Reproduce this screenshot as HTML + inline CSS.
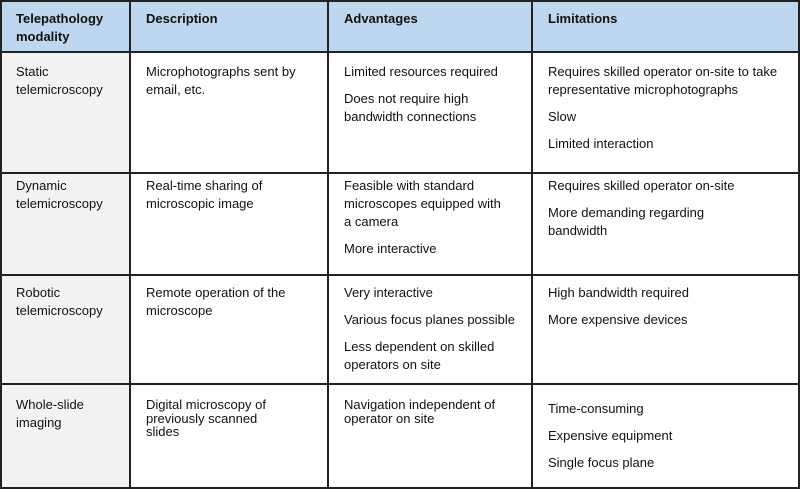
<!DOCTYPE html>
<html><head><meta charset="utf-8"><style>
body{margin:0;width:800px;height:489px;background:#fff;overflow:hidden;font-family:"Liberation Sans",Arial,sans-serif;font-size:13px;color:#111}
.c{position:absolute;box-sizing:border-box;padding:9px 10px 0 16px;line-height:18px}
.c p{margin:0 0 9px 0}
.h{background:#bdd7ee;font-weight:bold}
.g{background:#f2f2f2}
.v{position:absolute;top:0;width:2px;height:489px;background:#222}
.hl{position:absolute;left:0;width:800px;height:2px;background:#222}
</style></head><body>
<div class="c h" style="left:0;top:1px;width:130px;height:51px">Telepathology<br>modality</div>
<div class="c h" style="left:130px;top:1px;width:198px;height:51px">Description</div>
<div class="c h" style="left:328px;top:1px;width:204px;height:51px">Advantages</div>
<div class="c h" style="left:532px;top:1px;width:268px;height:51px">Limitations</div>

<div class="c g" style="left:0;top:52px;width:130px;height:437px"></div>

<div class="c" style="left:0;top:54px;width:130px">Static<br>telemicroscopy</div>
<div class="c" style="left:130px;top:54px;width:198px">Microphotographs sent by<br>email, etc.</div>
<div class="c" style="left:328px;top:54px;width:204px"><p>Limited resources required</p><p>Does not require high<br>bandwidth connections</p></div>
<div class="c" style="left:532px;top:54px;width:268px"><p>Requires skilled operator on-site to take<br>representative microphotographs</p><p>Slow</p><p>Limited interaction</p></div>

<div class="c" style="left:0;top:168px;width:130px">Dynamic<br>telemicroscopy</div>
<div class="c" style="left:130px;top:168px;width:198px">Real-time sharing of<br>microscopic image</div>
<div class="c" style="left:328px;top:168px;width:204px"><p>Feasible with standard<br>microscopes equipped with<br>a camera</p><p>More interactive</p></div>
<div class="c" style="left:532px;top:168px;width:268px"><p>Requires skilled operator on-site</p><p>More demanding regarding<br>bandwidth</p></div>

<div class="c" style="left:0;top:275px;width:130px">Robotic<br>telemicroscopy</div>
<div class="c" style="left:130px;top:275px;width:198px">Remote operation of the<br>microscope</div>
<div class="c" style="left:328px;top:275px;width:204px"><p>Very interactive</p><p>Various focus planes possible</p><p>Less dependent on skilled<br>operators on site</p></div>
<div class="c" style="left:532px;top:275px;width:268px"><p>High bandwidth required</p><p>More expensive devices</p></div>

<div class="c" style="left:0;top:387px;width:130px">Whole-slide<br>imaging</div>
<div class="c" style="left:130px;top:389px;width:198px;line-height:13.5px">Digital microscopy of<br>previously scanned<br>slides</div>
<div class="c" style="left:328px;top:389px;width:204px;line-height:13.5px">Navigation independent of<br>operator on site</div>
<div class="c" style="left:532px;top:391px;width:268px"><p>Time-consuming</p><p>Expensive equipment</p><p>Single focus plane</p></div>

<div class="hl" style="top:0"></div>
<div class="hl" style="top:51px"></div>
<div class="hl" style="top:172px"></div>
<div class="hl" style="top:274px"></div>
<div class="hl" style="top:383px"></div>
<div class="hl" style="top:487px"></div>
<div class="v" style="left:0"></div>
<div class="v" style="left:129px"></div>
<div class="v" style="left:327px"></div>
<div class="v" style="left:531px"></div>
<div class="v" style="left:798px"></div>
</body></html>
